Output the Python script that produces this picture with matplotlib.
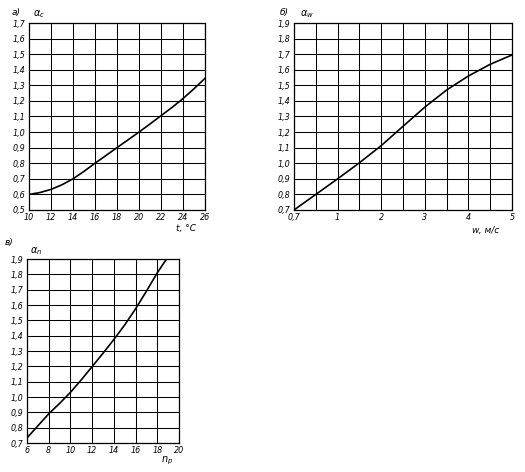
import matplotlib
matplotlib.use("Agg")
import matplotlib.pyplot as plt

# Panel а): alpha_c vs t, °C
t_vals = [10, 11, 12, 13, 14, 15, 16, 17, 18, 19, 20, 21, 22, 23, 24, 25, 26]
alpha_c = [0.60, 0.612, 0.632, 0.662, 0.70, 0.748, 0.80, 0.85, 0.90, 0.95, 1.00,
           1.052, 1.105, 1.158, 1.215, 1.278, 1.345]
a_xticks = [10, 12, 14, 16, 18, 20, 22, 24, 26]
a_yticks = [0.5, 0.6, 0.7, 0.8, 0.9, 1.0, 1.1, 1.2, 1.3, 1.4, 1.5, 1.6, 1.7]

# Panel б): alpha_w vs w, м/с (left edge labelled "0,7")
w_vals = [0.0, 0.5, 1.0, 1.5, 2.0, 2.5, 3.0, 3.5, 4.0, 4.5, 5.0]
alpha_w = [0.70, 0.80, 0.90, 1.003, 1.113, 1.237, 1.36, 1.47, 1.56, 1.635, 1.695]
b_xticks = [0, 1, 2, 3, 4, 5]
b_xlabels = ["0,7", "1", "2", "3", "4", "5"]
b_xgrid = [0, 0.5, 1, 1.5, 2, 2.5, 3, 3.5, 4, 4.5, 5]
b_yticks = [0.7, 0.8, 0.9, 1.0, 1.1, 1.2, 1.3, 1.4, 1.5, 1.6, 1.7, 1.8, 1.9]

# Panel в): alpha_n vs n_p
n_vals = [6, 7, 8, 9, 10, 11, 12, 13, 14, 15, 16, 17, 18, 18.85]
alpha_n = [0.733, 0.812, 0.89, 0.958, 1.03, 1.112, 1.198, 1.285, 1.375, 1.47, 1.575, 1.69, 1.81, 1.90]
c_xticks = [6, 8, 10, 12, 14, 16, 18, 20]
c_yticks = [0.7, 0.8, 0.9, 1.0, 1.1, 1.2, 1.3, 1.4, 1.5, 1.6, 1.7, 1.8, 1.9]

W, H = 525, 472
fig = plt.figure(figsize=(W / 100, H / 100), dpi=100)
fig.patch.set_facecolor("white")

FS = 5.8
font = dict(family="DejaVu Sans", style="italic", size=FS)


def fmt(v):
    return ("%.1f" % v).replace(".", ",")


def make_axes(left, right, top, bottom):
    return fig.add_axes([left / W, 1 - bottom / H, (right - left) / W, (bottom - top) / H])


def style(ax, xgrid, yticks, xticks, xlabels):
    for x in xgrid:
        ax.axvline(x, color="black", lw=0.75, zorder=1)
    for y in yticks:
        ax.axhline(y, color="black", lw=0.75, zorder=1)
    ax.set_xticks(xticks)
    ax.set_xticklabels(xlabels, fontdict=font)
    ax.set_yticks(yticks)
    ax.set_yticklabels([fmt(v) for v in yticks], fontdict=font)
    ax.tick_params(length=0, pad=2.5)
    for s in ax.spines.values():
        s.set_linewidth(0.9)
        s.set_color("black")


# Panel а
ax1 = make_axes(29, 205, 23, 210)
ax1.set_xlim(10, 26)
ax1.set_ylim(0.5, 1.7)
style(ax1, a_xticks, a_yticks, a_xticks, [str(v) for v in a_xticks])
ax1.plot(t_vals, alpha_c, color="black", lw=1.2, zorder=3)

# Panel б
ax2 = make_axes(294, 512, 23, 210)
ax2.set_xlim(0, 5)
ax2.set_ylim(0.7, 1.9)
style(ax2, b_xgrid, b_yticks, b_xticks, b_xlabels)
ax2.plot(w_vals, alpha_w, color="black", lw=1.2, zorder=3)

# Panel в
ax3 = make_axes(27, 179, 259, 443)
ax3.set_xlim(6, 20)
ax3.set_ylim(0.7, 1.9)
style(ax3, c_xticks, c_yticks, c_xticks, [str(v) for v in c_xticks])
ax3.plot(n_vals, alpha_n, color="black", lw=1.2, zorder=3)


def ftext(x, y, s, size=6.5, **kw):
    fig.text(x / W, 1 - y / H, s, fontsize=size, style="italic",
             family="DejaVu Sans", va="center", **kw)


ftext(12, 12, "а)")
ftext(33, 14, r"$\alpha_c$", size=7)
ftext(280, 12, "б)")
ftext(300, 14, r"$\alpha_w$", size=7)
ftext(5, 243, "в)")
ftext(30, 251, r"$\alpha_n$", size=7)

ftext(176, 229, "t, °C")
ftext(472, 230, "w, м/с")
ftext(161, 461, r"$n_p$", size=7)

fig.savefig("out.png", dpi=100, facecolor="white")
